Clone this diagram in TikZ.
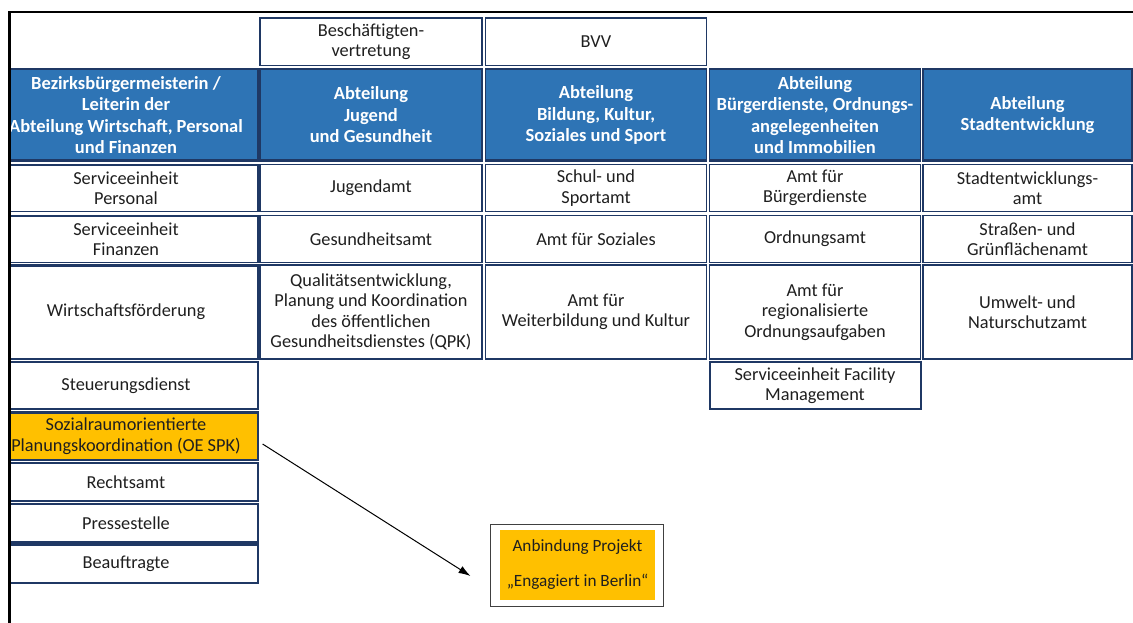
\documentclass[tikz,border=0pt]{standalone}
\usepackage{fontspec}
\setmainfont{Carlito}
\usetikzlibrary{arrows.meta}
\definecolor{navy}{HTML}{1F3864}
\definecolor{headblue}{HTML}{2E74B5}
\definecolor{spkorange}{HTML}{FFC000}
\begin{document}
\begin{tikzpicture}[x = 1pt, y = -1pt,
  box/.style 2 args = {minimum width = #1pt, minimum height = #2pt},
  cell/.style = {draw = navy, line width = 1.2pt, fill = white, align = center, inner sep = 0pt,
    text = black!88, font = \fontsize{18.3}{20.5}\selectfont},
  thicktop/.style = {path picture = {\draw[navy, line width = 3pt] (path picture bounding box.north west) -- (path picture bounding box.north east);}},
  head/.style = {cell, fill = headblue, text = white, font = \fontsize{18.5}{21.5}\selectfont\bfseries,
    path picture = {\draw[navy, line width = 4pt] (path picture bounding box.south west) -- (path picture bounding box.south east);}},
  spk/.style = {cell, fill = spkorange}]
\useasboundingbox (0,0) rectangle (1133,623);
\begin{scope}
\clip (11,13.5) rectangle (1133,623);
% top row
\node[cell, thicktop, box = {222}{48}] (besch) at (371,41.5) {Beschäftigten-\\vertretung};
\node[cell, thicktop, box = {221}{48}] (bvv) at (596,41.5) {BVV};
% departments
\node[head, box = {264}{92}] (bzbm) at (126,115) {Bezirksbürgermeisterin /\\Leiterin der\\Abteilung Wirtschaft, Personal\\und Finanzen};
\node[head, box = {222}{92}] (jug) at (371,115) {Abteilung\\Jugend\\und Gesundheit};
\node[head, box = {221}{92}] (bild) at (596,115) {Abteilung\\Bildung, Kultur,\\Soziales und Sport};
\node[head, box = {211}{92}] (buerg) at (815,115) {Abteilung\\Bürgerdienste, Ordnungs-\\angelegenheiten\\und Immobilien};
\node[head, box = {209}{92}] (stadt) at (1027.5,115) {Abteilung\\Stadtentwicklung};
% first column
\node[cell, thicktop, box = {264}{47.5}] (sePers) at (126,188) {Serviceeinheit\\Personal};
\node[cell, thicktop, box = {264}{47.5}] (seFin) at (126,239) {Serviceeinheit\\Finanzen};
\node[cell, thicktop, box = {264}{94}] (wifoe) at (126,312) {Wirtschaftsförderung};
\node[cell, box = {264}{47}] (steu) at (126,385.5) {Steuerungsdienst};
\node[spk, thicktop, box = {264}{48}] (soz) at (126,436) {Sozialraumorientierte\\Planungskoordination (OE SPK)};
\node[cell, box = {264}{38}] (recht) at (126,482) {Rechtsamt};
\node[cell, box = {264}{38}] (presse) at (126,523) {Pressestelle};
\node[cell, thicktop, box = {264}{39}] (beauf) at (126,563.5) {Beauftragte};
% second column
\node[cell, box = {222}{47.5}] (jugamt) at (371,188) {Jugendamt};
\node[cell, box = {222}{47.5}] (gesamt) at (371,239) {Gesundheitsamt};
\node[cell, box = {222}{94}] (qpk) at (371,312) {Qualitätsentwicklung,\\Planung und Koordination\\des öffentlichen\\Gesundheitsdienstes (QPK)};
% third column
\node[cell, box = {221}{47.5}] (schul) at (596,188) {Schul- und\\Sportamt};
\node[cell, box = {221}{47.5}] (soziales) at (596,239) {Amt für Soziales};
\node[cell, box = {221}{94}] (weiter) at (596,312) {Amt für\\Weiterbildung und Kultur};
% fourth column
\node[cell, box = {211}{47.5}] (bdienst) at (815,188) {Amt für\\Bürgerdienste};
\node[cell, box = {211}{47.5}] (ordamt) at (815,239) {Ordnungsamt};
\node[cell, box = {211}{94}] (regord) at (815,312) {Amt für\\regionalisierte\\Ordnungsaufgaben};
\node[cell, line width = 2pt, box = {211}{47}] (facil) at (815,385.5) {Serviceeinheit Facility\\Management};
% fifth column
\node[cell, box = {209}{47.5}] (stamt) at (1027.5,188) {Stadtentwicklungs-\\amt};
\node[cell, box = {209}{47.5}] (strgr) at (1027.5,239) {Straßen- und\\Grünflächenamt};
\node[cell, box = {209}{94}] (umwelt) at (1027.5,312) {Umwelt- und\\Naturschutzamt};
\end{scope}
% project
\node[draw = black!75, line width = 1pt, fill = white, box = {173}{82}] (proj) at (576.5,565) {};
\node[fill = spkorange, align = center, inner sep = 0pt, box = {155}{70}, text = black!88,
  font = \fontsize{17.2}{35}\selectfont] (projin) at (577.5,565) {Anbindung Projekt\\„Engagiert in Berlin“};
\coordinate (arrEnd) at (470.5,576);
\draw[line width = 1pt, -{Latex[length = 12pt, width = 8pt]}] ([shift = {(4,8)}]soz.east) -- (arrEnd);
% frame
\draw[line width = 2.5pt] (9.5,623) -- (9.5,12) -- (1133,12);
\end{tikzpicture}
\end{document}
